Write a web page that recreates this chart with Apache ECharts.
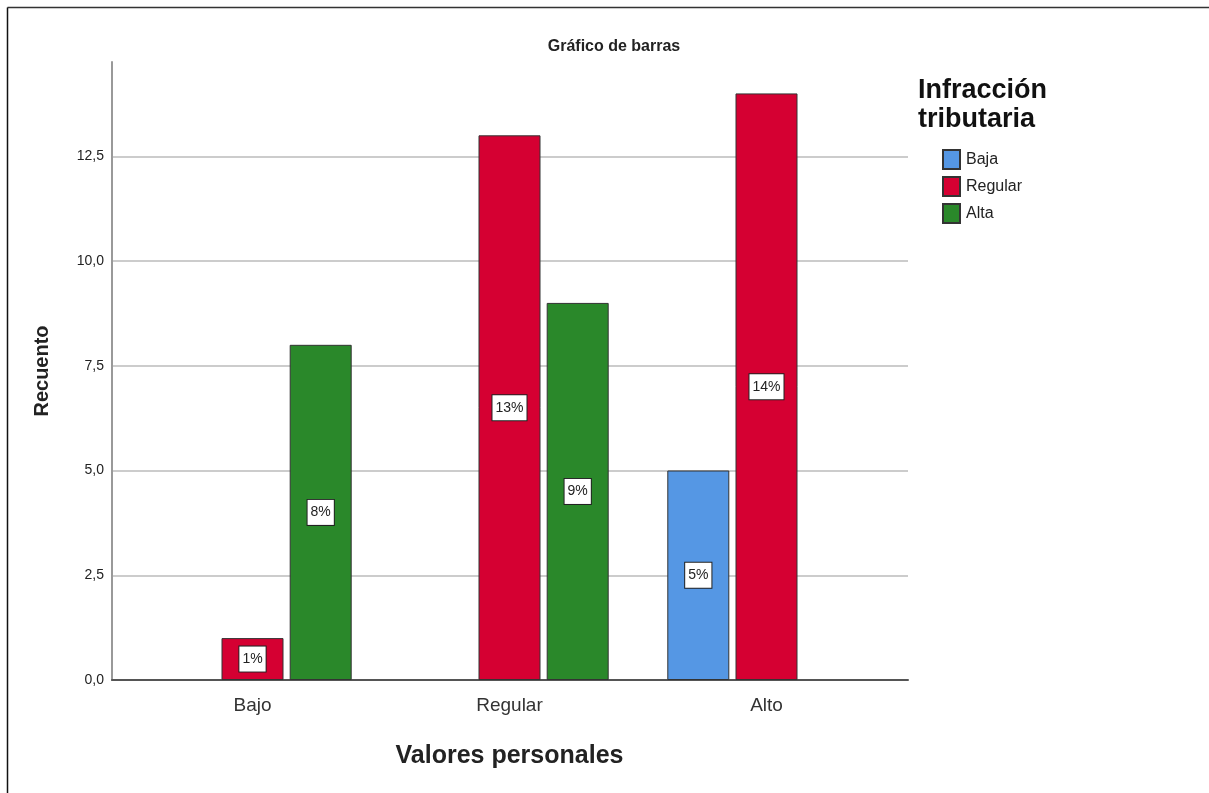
<!DOCTYPE html>
<html>
<head>
<meta charset="utf-8">
<script src="https://cdn.jsdelivr.net/npm/echarts@6/dist/echarts.min.js"></script>
<style>
  html, body { margin: 0; padding: 0; background: #fff; }
  #chart { width: 1209px; height: 793px; }
</style>
</head>
<body>
<div id="chart"></div>
<script>
const categories = ['Bajo', 'Regular', 'Alto']
const seriesNames = ['Baja', 'Regular', 'Alta']
const baja = [null, null, 5]
const regular = [1, 13, 14]
const alta = [8, 9, null]
const colors = ['#5597E4', '#D50032', '#2A882A']

const chart = echarts.init(document.getElementById('chart'))
const font = 'Liberation Sans, Arial, sans-serif'

function makeSeries(name, data, color) {
  return {
    name: name,
    type: 'bar',
    xAxisIndex: 1,
    yAxisIndex: 1,
    data: data,
    barWidth: 62,
    barGap: '10%',
    itemStyle: { color: color, borderColor: '#333', borderWidth: 1 },
    label: {
      show: true,
      position: 'inside',
      formatter: '{c}%',
      backgroundColor: '#fff',
      borderColor: '#222',
      borderWidth: 1,
      padding: [6, 3, 5, 3],
      color: '#222',
      fontFamily: font,
      fontSize: 14
    },
    emphasis: { disabled: true }
  }
}

const option = {
  animation: false,
  title: {
    text: 'Gráfico de barras',
    left: 609,
    top: 34,
    textAlign: 'center',
    textStyle: { fontFamily: font, fontSize: 16, fontWeight: 'bold', color: '#222' }
  },
  legend: {
    orient: 'vertical',
    left: 942,
    top: 149,
    padding: 0,
    icon: 'rect',
    itemWidth: 17,
    itemHeight: 19,
    itemGap: 6,
    textStyle: { fontFamily: font, fontSize: 16, color: '#222', padding: [0, 0, 0, 1] },
    data: seriesNames
  },
  grid: [
    { left: 112, right: 301, top: 62, bottom: 113 },
    { left: 124, right: 314, top: 62, bottom: 113 }
  ],
  xAxis: [
    {
      type: 'category', gridIndex: 0, data: categories,
      axisLine: { lineStyle: { color: '#555', width: 2 } },
      axisTick: { show: false }, axisLabel: { show: false }
    },
    {
      type: 'category', gridIndex: 1, data: categories,
      axisLine: { show: false }, axisTick: { show: false },
      axisLabel: { fontFamily: font, fontSize: 19, color: '#333', margin: 16 },
      name: 'Valores personales',
      nameLocation: 'middle',
      nameGap: 64,
      nameTextStyle: { fontFamily: font, fontSize: 25, fontWeight: 'bold', color: '#222' }
    }
  ],
  yAxis: [
    {
      type: 'value', gridIndex: 0, min: 0, max: 14.75, interval: 2.5,
      axisLine: { show: true, lineStyle: { color: '#999', width: 2 } },
      axisTick: { show: false },
      axisLabel: {
        showMaxLabel: false,
        fontFamily: font, fontSize: 14, color: '#222', margin: 8,
        formatter: v => v.toFixed(1).replace('.', ',')
      },
      splitLine: { show: true, showMaxLine: false, showMinLine: false, lineStyle: { color: '#ccc', width: 2 } },
      name: 'Recuento',
      nameLocation: 'middle',
      nameGap: 60,
      nameTextStyle: { fontFamily: font, fontSize: 20, fontWeight: 'bold', color: '#222' }
    },
    {
      type: 'value', gridIndex: 1, min: 0, max: 14.75, interval: 2.5,
      show: false
    }
  ],
  graphic: [
    {
      type: 'text', left: 918, top: 76,
      style: {
        text: 'Infracción\ntributaria',
        font: 'bold 27px ' + font,
        fill: '#111',
        lineHeight: 29
      }
    },
    { type: 'line', shape: { x1: 7.5, y1: 7.5, x2: 1209, y2: 7.5 }, style: { stroke: '#333', lineWidth: 1.5 } },
    { type: 'line', shape: { x1: 7.5, y1: 7.5, x2: 7.5, y2: 793 }, style: { stroke: '#111', lineWidth: 1.5 } }
  ],
  series: [
    { type: 'bar', xAxisIndex: 0, yAxisIndex: 0, data: [], silent: true },
    makeSeries(seriesNames[0], baja, colors[0]),
    makeSeries(seriesNames[1], regular, colors[1]),
    makeSeries(seriesNames[2], alta, colors[2])
  ]
}

chart.setOption(option)
</script>
</body>
</html>
